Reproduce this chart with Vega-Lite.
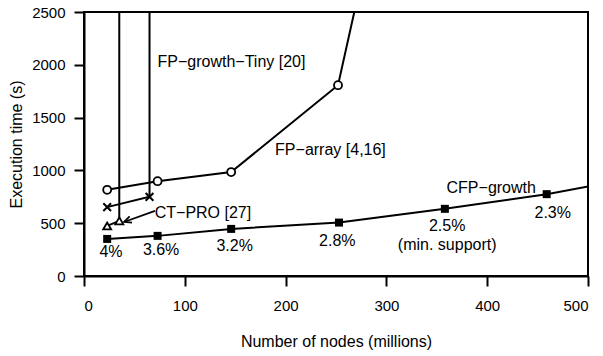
{
  "$schema": "https://vega.github.io/schema/vega-lite/v6.json",
  "width": 504,
  "height": 264,
  "autosize": {"type": "none"},
  "padding": {"left": 84, "top": 12, "right": 15, "bottom": 80},
  "background": "white",
  "config": {
    "font": "Liberation Sans",
    "view": {"stroke": "black", "strokeWidth": 2},
    "axis": {
      "grid": false,
      "domainColor": "black",
      "domainWidth": 2,
      "tickColor": "black",
      "tickWidth": 2,
      "tickSize": 10,
      "labelFontSize": 15,
      "labelColor": "black",
      "titleFontSize": 16,
      "titleFontWeight": "normal",
      "titleColor": "black"
    }
  },
  "datasets": {
    "series": [
      {"series": "CFP-growth", "i": 1, "x": 23, "y": 351, "ext": false},
      {"series": "CFP-growth", "i": 2, "x": 73, "y": 380, "ext": false},
      {"series": "CFP-growth", "i": 3, "x": 146, "y": 446, "ext": false},
      {"series": "CFP-growth", "i": 4, "x": 253, "y": 506, "ext": false},
      {"series": "CFP-growth", "i": 5, "x": 358, "y": 636, "ext": false},
      {"series": "CFP-growth", "i": 6, "x": 459, "y": 775, "ext": false},
      {"series": "CFP-growth", "i": 7, "x": 570, "y": 970, "ext": true},
      {"series": "FP-array", "i": 1, "x": 23, "y": 816, "ext": false},
      {"series": "FP-array", "i": 2, "x": 73, "y": 898, "ext": false},
      {"series": "FP-array", "i": 3, "x": 146, "y": 984, "ext": false},
      {"series": "FP-array", "i": 4, "x": 252, "y": 1807, "ext": false},
      {"series": "FP-array", "i": 5, "x": 290, "y": 3437, "ext": true},
      {"series": "FP-growth-Tiny", "i": 1, "x": 23, "y": 652, "ext": false},
      {"series": "FP-growth-Tiny", "i": 2, "x": 65, "y": 750, "ext": false},
      {"series": "FP-growth-Tiny", "i": 3, "x": 65, "y": 6000, "ext": true},
      {"series": "CT-PRO", "i": 1, "x": 23, "y": 474, "ext": false},
      {"series": "CT-PRO", "i": 2, "x": 35, "y": 522, "ext": false},
      {"series": "CT-PRO", "i": 3, "x": 35, "y": 6000, "ext": true}
    ],
    "labels": [
      {"x": 146.3, "y": 2030, "text": "FP−growth−Tiny [20]"},
      {"x": 244.5, "y": 1195, "text": "FP−array [4,16]"},
      {"x": 118, "y": 595, "text": "CT−PRO [27]"},
      {"x": 404, "y": 838, "text": "CFP−growth"},
      {"x": 26.8, "y": 231, "text": "4%"},
      {"x": 76.5, "y": 247, "text": "3.6%"},
      {"x": 149.5, "y": 285, "text": "3.2%"},
      {"x": 251.3, "y": 335, "text": "2.8%"},
      {"x": 360.3, "y": 474, "text": "2.5%"},
      {"x": 360.3, "y": 294, "text": "(min. support)"},
      {"x": 465, "y": 600, "text": "2.3%"}
    ],
    "arrow": [
      {"part": "shaft", "i": 1, "x": 70.4, "y": 617},
      {"part": "shaft", "i": 2, "x": 39.7, "y": 512},
      {"part": "head", "i": 1, "x": 47.6, "y": 505},
      {"part": "head", "i": 2, "x": 39.7, "y": 512},
      {"part": "head", "i": 3, "x": 45.3, "y": 565}
    ]
  },
  "encoding": {
    "x": {
      "field": "x", "type": "quantitative",
      "scale": {"domain": [0, 500], "nice": false},
      "axis": {"values": [0, 100, 200, 300, 400, 500], "format": "d", "labelPadding": 12, "title": "Number of nodes (millions)", "titlePadding": 20}
    },
    "y": {
      "field": "y", "type": "quantitative",
      "scale": {"domain": [0, 2500], "nice": false},
      "axis": {"values": [0, 500, 1000, 1500, 2000, 2500], "format": "d", "labelPadding": 9, "title": "Execution time (s)", "titlePadding": 7}
    }
  },
  "layer": [
    {
      "data": {"name": "series"},
      "mark": {"type": "line", "color": "black", "strokeWidth": 2, "clip": true},
      "encoding": {"detail": {"field": "series"}, "order": {"field": "i"}}
    },
    {
      "data": {"name": "arrow"},
      "mark": {"type": "line", "color": "black", "strokeWidth": 1.7, "clip": true},
      "encoding": {"detail": {"field": "part"}, "order": {"field": "i"}}
    },
    {
      "data": {"name": "series"},
      "transform": [{"filter": "datum.series == 'CFP-growth' && !datum.ext"}],
      "mark": {"type": "point", "shape": "square", "filled": true, "color": "black", "size": 64, "opacity": 1}
    },
    {
      "data": {"name": "series"},
      "transform": [{"filter": "datum.series == 'FP-array' && !datum.ext"}],
      "mark": {"type": "point", "shape": "circle", "filled": true, "fill": "white", "stroke": "black", "strokeWidth": 1.8, "size": 64, "opacity": 1}
    },
    {
      "data": {"name": "series"},
      "transform": [{"filter": "datum.series == 'CT-PRO' && !datum.ext"}],
      "mark": {"type": "point", "shape": "triangle-up", "filled": true, "fill": "white", "stroke": "black", "strokeWidth": 1.8, "size": 65, "opacity": 1}
    },
    {
      "data": {"name": "series"},
      "transform": [{"filter": "datum.series == 'FP-growth-Tiny' && !datum.ext"}],
      "mark": {"type": "point", "shape": "M-1,-1L1,1M-1,1L1,-1", "filled": false, "stroke": "black", "strokeWidth": 2, "size": 60, "opacity": 1}
    },
    {
      "data": {"name": "labels"},
      "mark": {"type": "text", "fontSize": 16, "color": "black", "align": "center", "baseline": "middle"},
      "encoding": {"text": {"field": "text"}}
    }
  ]
}
